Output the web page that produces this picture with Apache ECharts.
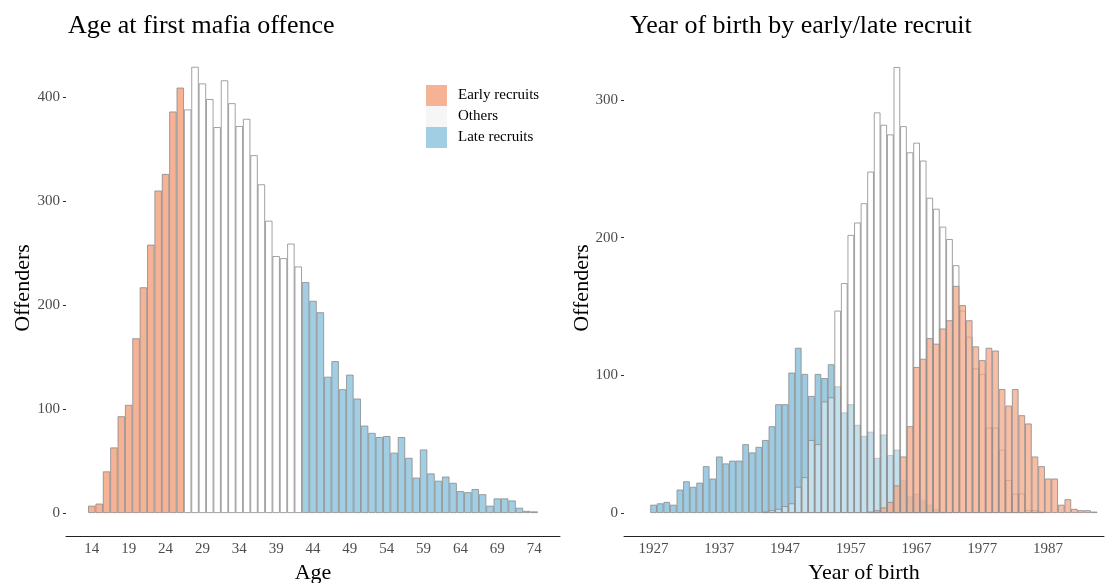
<!DOCTYPE html>
<html>
<head>
<meta charset="utf-8">
<script src="https://cdn.jsdelivr.net/npm/echarts@6/dist/echarts.min.js"></script>
<style>
  html, body { margin: 0; padding: 0; background: #fff; }
  #chart { width: 1107px; height: 583px; }
</style>
</head>
<body>
<div id="chart"></div>
<script>
// left panel: age at first mafia offence
const ages = [14, 15, 16, 17, 18, 19, 20, 21, 22, 23, 24, 25, 26, 27, 28, 29, 30, 31, 32, 33,
  34, 35, 36, 37, 38, 39, 40, 41, 42, 43, 44, 45, 46, 47, 48, 49, 50, 51, 52, 53,
  54, 55, 56, 57, 58, 59, 60, 61, 62, 63, 64, 65, 66, 67, 68, 69, 70, 71, 72, 73, 74];
const ageCounts = [7, 9, 40, 63, 93, 104, 168, 217, 258, 310, 326, 386, 409, 388, 429, 413, 398, 371, 416, 394,
  372, 379, 344, 316, 281, 247, 245, 259, 237, 222, 204, 193, 131, 146, 119, 133, 110, 84, 77, 73,
  74, 58, 73, 53, 34, 61, 38, 31, 35, 29, 21, 20, 23, 18, 7, 14, 14, 12, 5, 2, 1.5];
const earlyMaxAge = 26;
const lateMinAge = 43;
const ageTicks = [14, 19, 24, 29, 34, 39, 44, 49, 54, 59, 64, 69, 74];
const ageYTicks = [0, 100, 200, 300, 400];

// right panel: year of birth
const birthYears = [];
for (let y = 1927; y <= 1994; y++) birthYears.push(y);
const lateByYear = [6, 7, 8, 6, 17, 23, 19, 22, 34, 25, 41, 36, 38, 38, 50, 44, 48, 53, 63, 79,
  79, 102, 120, 101, 85, 101, 98, 108, 92, 73, 79, 64, 56, 59, 40, 57, 42, 46, 24, 12,
  14, 9, 6, 3, 1, 0, 0, 0, 0, 0, 0, 0, 0, 0, 0, 0, 0, 0, 0, 0,
  0, 0, 0, 0, 0, 0, 0, 0];
const othersByYear = [0, 0, 0, 0, 0, 0, 0, 0, 0, 0, 0, 0, 0, 0, 0, 0, 0, 1, 2, 3,
  5, 7, 19, 26, 53, 50, 81, 84, 147, 167, 202, 211, 225, 248, 291, 282, 275, 324, 281, 262,
  269, 256, 229, 221, 208, 199, 180, 147, 128, 105, 101, 62, 62, 46, 24, 14, 14, 2, 2, 1,
  0, 0, 0, 0, 0, 0, 0, 0];
const earlyByYear = [0, 0, 0, 0, 0, 0, 0, 0, 0, 0, 0, 0, 0, 0, 0, 0, 0, 0, 0, 0,
  0, 0, 0, 0, 0, 0, 0, 0, 0, 0, 0, 0, 0, 1, 2, 4, 8, 20, 41, 63,
  106, 112, 127, 123, 134, 140, 165, 151, 140, 121, 111, 120, 118, 90, 78, 90, 71, 65, 41, 34,
  25, 25, 6, 10, 3, 2, 2, 1];
const yearTicks = [1927, 1937, 1947, 1957, 1967, 1977, 1987];
const yearYTicks = [0, 100, 200, 300];

const serif = '"Liberation Serif", "DejaVu Serif", serif';
const orange = 'rgba(244, 165, 130, 0.85)';
const blue = 'rgba(146, 197, 222, 0.85)';
const edge = '#8a8a8a';

// axis categories padded a little on both sides, like ggplot's expansion
const ageAxis = [];
for (let a = ages[0] - 3; a <= ages[ages.length - 1] + 3; a++) ageAxis.push(String(a));
const yearAxis = [];
for (let y = birthYears[0] - 4; y <= birthYears[birthYears.length - 1] + 1; y++) yearAxis.push(String(y));

const ageSeries = (keep) => ageAxis.map(a => {
  const i = ages.indexOf(+a);
  return i >= 0 && keep(+a) ? ageCounts[i] : null;
});
const yearSeries = (counts) => yearAxis.map(y => {
  const i = birthYears.indexOf(+y);
  return i >= 0 && counts[i] > 0 ? counts[i] : null;
});

const xAxisBase = (data, ticks, name) => ({
  type: 'category',
  data: data,
  offset: 23,
  name: name,
  nameLocation: 'middle',
  nameGap: 24,
  nameTextStyle: { fontFamily: serif, fontSize: 22, color: '#000' },
  axisLine: { onZero: false, lineStyle: { color: '#222', width: 1 } },
  axisTick: { alignWithLabel: true, length: 4, interval: (i, v) => ticks.includes(+v), lineStyle: { color: '#333' } },
  axisLabel: { interval: (i, v) => ticks.includes(+v), margin: 6, fontFamily: serif, fontSize: 15, color: '#4d4d4d' },
  splitLine: { show: false }
});
const yAxisBase = (max, ticks) => ({
  type: 'value',
  min: 0,
  max: max,
  axisLine: { show: false },
  axisTick: { show: true, length: 3, customValues: ticks, lineStyle: { color: '#333' } },
  axisLabel: { customValues: ticks, margin: 6, fontFamily: serif, fontSize: 15, color: '#4d4d4d' },
  splitLine: { show: false }
});
const barBase = {
  type: 'bar',
  barGap: '-100%',
  barCategoryGap: '0%',
  animation: false
};

const chart = echarts.init(document.getElementById('chart'));
chart.setOption({
  backgroundColor: '#fff',
  animation: false,
  title: [
    { text: 'Age at first mafia offence', left: 68, top: 13, padding: 0,
      textStyle: { fontFamily: serif, fontSize: 26, fontWeight: 'normal', color: '#000' } },
    { text: 'Year of birth by early/late recruit', left: 630, top: 13, padding: 0,
      textStyle: { fontFamily: serif, fontSize: 26, fontWeight: 'normal', color: '#000' } }
  ],
  legend: {
    left: 426, top: 85, orient: 'vertical', padding: 0,
    itemWidth: 21, itemHeight: 21, itemGap: 0, icon: 'rect',
    selectedMode: false,
    itemStyle: { borderWidth: 0 },
    textStyle: { fontFamily: serif, fontSize: 15, color: '#000', padding: [0, 0, 0, 6] },
    data: [
      { name: 'Early recruits', itemStyle: { color: orange } },
      { name: 'Others', itemStyle: { color: '#f6f6f6' } },
      { name: 'Late recruits', itemStyle: { color: blue } }
    ]
  },
  graphic: [
    { type: 'text', x: 23, y: 288, rotation: Math.PI / 2,
      style: { text: 'Offenders', font: '22px ' + serif, fill: '#000', align: 'center', verticalAlign: 'middle' } },
    { type: 'text', x: 582, y: 288, rotation: Math.PI / 2,
      style: { text: 'Offenders', font: '22px ' + serif, fill: '#000', align: 'center', verticalAlign: 'middle' } }
  ],
  grid: [
    { left: 66, width: 494, top: 45, bottom: 70, outerBoundsMode: 'none', containLabel: false },
    { left: 624, width: 480, top: 45, bottom: 70, outerBoundsMode: 'none', containLabel: false }
  ],
  xAxis: [
    Object.assign(xAxisBase(ageAxis, ageTicks, 'Age'), { gridIndex: 0 }),
    Object.assign(xAxisBase(yearAxis, yearTicks, 'Year of birth'), { gridIndex: 1 })
  ],
  yAxis: [
    Object.assign(yAxisBase(450, ageYTicks), { gridIndex: 0 }),
    Object.assign(yAxisBase(340, yearYTicks), { gridIndex: 1 })
  ],
  series: [
    Object.assign({}, barBase, { name: 'Early recruits', xAxisIndex: 0, yAxisIndex: 0,
      data: ageSeries(a => a <= earlyMaxAge),
      itemStyle: { color: orange, borderColor: edge, borderWidth: 0.8 } }),
    Object.assign({}, barBase, { name: 'Others', xAxisIndex: 0, yAxisIndex: 0,
      data: ageSeries(a => a > earlyMaxAge && a < lateMinAge),
      itemStyle: { color: '#fff', borderColor: edge, borderWidth: 0.8 } }),
    Object.assign({}, barBase, { name: 'Late recruits', xAxisIndex: 0, yAxisIndex: 0,
      data: ageSeries(a => a >= lateMinAge),
      itemStyle: { color: blue, borderColor: edge, borderWidth: 0.8 } }),

    // overlaid histograms: late, then others, then early on top
    Object.assign({}, barBase, { name: 'Late recruits', xAxisIndex: 1, yAxisIndex: 1,
      data: yearSeries(lateByYear),
      itemStyle: { color: 'rgba(146, 197, 222, 0.9)', borderColor: edge, borderWidth: 0.8 } }),
    Object.assign({}, barBase, { name: 'Others', xAxisIndex: 1, yAxisIndex: 1,
      data: yearSeries(othersByYear),
      itemStyle: { color: 'rgba(255, 255, 255, 0.4)', borderColor: edge, borderWidth: 0.8 } }),
    Object.assign({}, barBase, { name: 'Early recruits', xAxisIndex: 1, yAxisIndex: 1,
      data: yearSeries(earlyByYear),
      itemStyle: { color: 'rgba(244, 165, 130, 0.72)', borderColor: edge, borderWidth: 0.8 } })
  ]
});
</script>
</body>
</html>
